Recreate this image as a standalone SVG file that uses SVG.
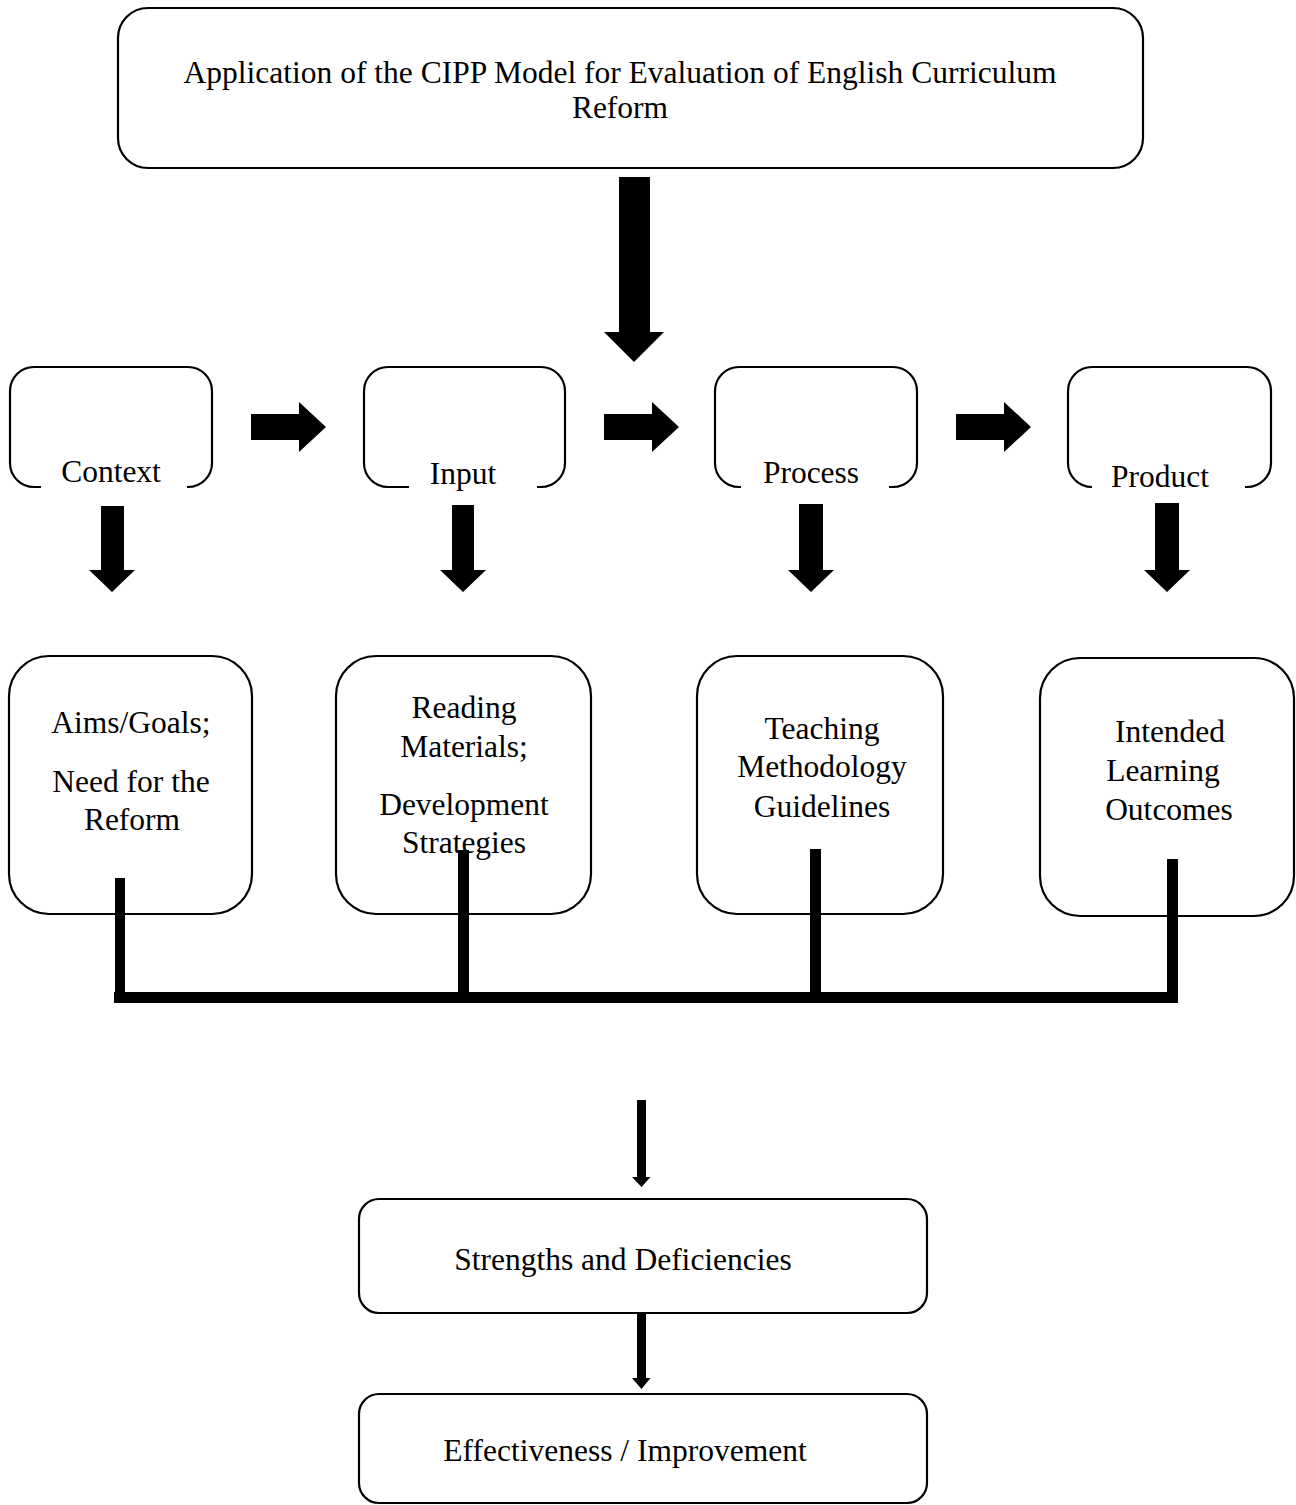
<svg xmlns="http://www.w3.org/2000/svg" width="1296" height="1505" viewBox="0 0 1296 1505">
<style>
.box{fill:none;stroke:#000;stroke-width:2.2}
.t{font-family:"Liberation Serif","Times New Roman",serif;font-size:31.5px;fill:#000;text-anchor:middle}
.blk{fill:#000;stroke:none}
</style>
<rect width="1296" height="1505" fill="#fff"/>
<g id="title">
<rect class="box" x="118" y="8" width="1025" height="160" rx="30" ry="30"/>
<text class="t" x="620" y="83">Application of the CIPP Model for Evaluation of English Curriculum</text>
<text class="t" x="620" y="118">Reform</text>
</g>
<g id="context">
<path class="box" d="M41 487 H34 A24 24 0 0 1 10 463 V391 A24 24 0 0 1 34 367 H188 A24 24 0 0 1 212 391 V463 A24 24 0 0 1 188 487 H187"/>
<text class="t" x="111" y="482">Context</text>
</g>
<g id="input">
<path class="box" d="M409 487 H388 A24 24 0 0 1 364 463 V391 A24 24 0 0 1 388 367 H541 A24 24 0 0 1 565 391 V463 A24 24 0 0 1 541 487 H537"/>
<text class="t" x="463" y="484">Input</text>
</g>
<g id="process">
<path class="box" d="M741 487 H739 A24 24 0 0 1 715 463 V391 A24 24 0 0 1 739 367 H893 A24 24 0 0 1 917 391 V463 A24 24 0 0 1 893 487 H889"/>
<text class="t" x="811" y="483">Process</text>
</g>
<g id="product">
<path class="box" d="M1092 487 H1092 A24 24 0 0 1 1068 463 V391 A24 24 0 0 1 1092 367 H1247 A24 24 0 0 1 1271 391 V463 A24 24 0 0 1 1247 487 H1245"/>
<text class="t" x="1160" y="487">Product</text>
</g>
<g id="aims">
<rect class="box" x="9" y="656" width="243" height="258" rx="40" ry="40"/>
<text class="t" x="131" y="733">Aims/Goals;</text>
<text class="t" x="131" y="792">Need for the</text>
<text class="t" x="132" y="830">Reform</text>
</g>
<g id="reading">
<rect class="box" x="336" y="656" width="255" height="258" rx="40" ry="40"/>
<text class="t" x="464" y="718">Reading</text>
<text class="t" x="464" y="757">Materials;</text>
<text class="t" x="464" y="815">Development</text>
<text class="t" x="464" y="853">Strategies</text>
</g>
<g id="teaching">
<rect class="box" x="697" y="656" width="246" height="258" rx="40" ry="40"/>
<text class="t" x="822" y="739">Teaching</text>
<text class="t" x="822" y="777">Methodology</text>
<text class="t" x="822" y="817">Guidelines</text>
</g>
<g id="outcomes">
<rect class="box" x="1040" y="658" width="254" height="258" rx="40" ry="40"/>
<text class="t" x="1170" y="742">Intended</text>
<text class="t" x="1163" y="781">Learning</text>
<text class="t" x="1169" y="820">Outcomes</text>
</g>
<g id="strengths">
<rect class="box" x="359" y="1199" width="568" height="114" rx="20" ry="20"/>
<text class="t" x="623" y="1270">Strengths and Deficiencies</text>
</g>
<g id="effectiveness">
<rect class="box" x="359" y="1394" width="568" height="109" rx="20" ry="20"/>
<text class="t" x="625" y="1461">Effectiveness / Improvement</text>
</g>
<g id="connectors">
<polygon class="blk" points="619,177 650,177 650,332 664,332 634,362 604,332 619,332"/>
<polygon class="blk" points="251,414 299,414 299,402 326,427 299,452 299,440 251,440"/>
<polygon class="blk" points="604,414 652,414 652,402 679,427 652,452 652,440 604,440"/>
<polygon class="blk" points="956,414 1004,414 1004,402 1031,427 1004,452 1004,440 956,440"/>
<polygon class="blk" points="101,506 124,506 124,570 135,570 112,592 89,570 101,570"/>
<polygon class="blk" points="452,505 474,505 474,570 486,570 463,592 440,570 452,570"/>
<polygon class="blk" points="799,504 823,504 823,570 834,570 811,592 788,570 799,570"/>
<polygon class="blk" points="1155,503 1179,503 1179,570 1190,570 1167,592 1144,570 1155,570"/>
<rect class="blk" x="115" y="878" width="10" height="124"/>
<rect class="blk" x="458" y="850" width="11" height="152"/>
<rect class="blk" x="810" y="849" width="11" height="153"/>
<rect class="blk" x="1167" y="859" width="11" height="143"/>
<rect class="blk" x="114" y="992" width="1064" height="11"/>
<polygon class="blk" points="637,1100 646,1100 646,1177 650.5,1177 641.5,1187 632,1177 637,1177"/>
<polygon class="blk" points="637,1313 646,1313 646,1378 650.5,1378 641.5,1389 632,1378 637,1378"/>
</g>
</svg>
